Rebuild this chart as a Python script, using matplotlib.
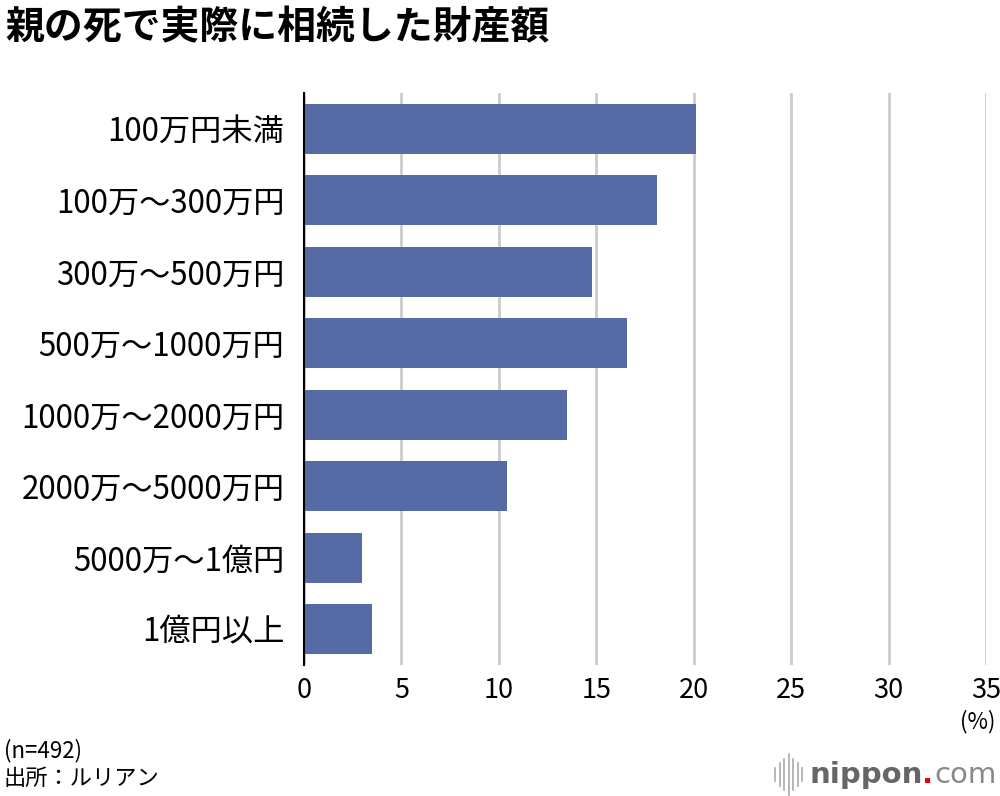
import numpy as np
import matplotlib.pyplot as plt
from matplotlib.lines import Line2D

plt.rcParams['font.family'] = ['Noto Sans CJK JP', 'DejaVu Sans']

#相続した財産額の分布 (%)
labels = ['100万円未満', '100万～300万円', '300万～500万円', '500万～1000万円',
          '1000万～2000万円', '2000万～5000万円', '5000万～1億円', '1億円以上']
values = [20.1, 18.1, 14.8, 16.6, 13.5, 10.4, 3.0, 3.5]
ticks = [0, 5, 10, 15, 20, 25, 30, 35]

fig = plt.figure(figsize=(10, 7.96), dpi=100)
ax = fig.add_axes([0.304, 0.1646, 0.682, 0.7186])

y = np.arange(len(labels))
ax.barh(y, values, height=0.7, color='#566ba6', zorder=3)
ax.set_ylim(len(labels) - 0.5, -0.5)
ax.set_xlim(0, 35)
ax.set_xticks(ticks)
ax.set_xticklabels([str(t) for t in ticks], fontsize=19.5)
ax.set_yticks(y)
ax.set_yticklabels(labels, fontsize=22.5)
ax.tick_params(axis='x', length=0, pad=9)
ax.tick_params(axis='y', length=0, pad=14)
ax.grid(axis='x', color='#cccccc', linewidth=2, zorder=0)
for s in ['top', 'right', 'bottom']:
    ax.spines[s].set_visible(False)
ax.spines['left'].set_color('black')
ax.spines['left'].set_linewidth(1.5)
ax.spines['left'].set_zorder(4)

fig.text(0.005, 0.965, '親の死で実際に相続した財産額', fontsize=28, fontweight='bold',
         va='center', ha='left')
fig.text(0.995, 0.094, '(%)', fontsize=16, ha='right', va='center')
fig.text(0.004, 0.057, '(n=492)', fontsize=16, ha='left', va='center')
fig.text(0.004, 0.022, '出所：ルリアン', fontsize=16, ha='left', va='center')

#logo
hs = [0.008, 0.014, 0.02, 0.026, 0.02, 0.014, 0.008]
for i, h in enumerate(hs):
    xx = 0.775 + i * 0.0045
    fig.add_artist(Line2D([xx, xx], [0.027 - h, 0.027 + h], color='#aaaaaa', lw=1.2))
fig.text(0.810, 0.027, 'nippon', fontsize=21, fontweight='bold', color='#666666',
         va='center', ha='left', family='DejaVu Sans')
fig.text(0.922, 0.027, '.', fontsize=21, fontweight='bold', color='#e60012',
         va='center', ha='left', family='DejaVu Sans')
fig.text(0.934, 0.027, 'com', fontsize=21, color='#888888',
         va='center', ha='left', family='DejaVu Sans')

fig.savefig('out.png', dpi=100)
